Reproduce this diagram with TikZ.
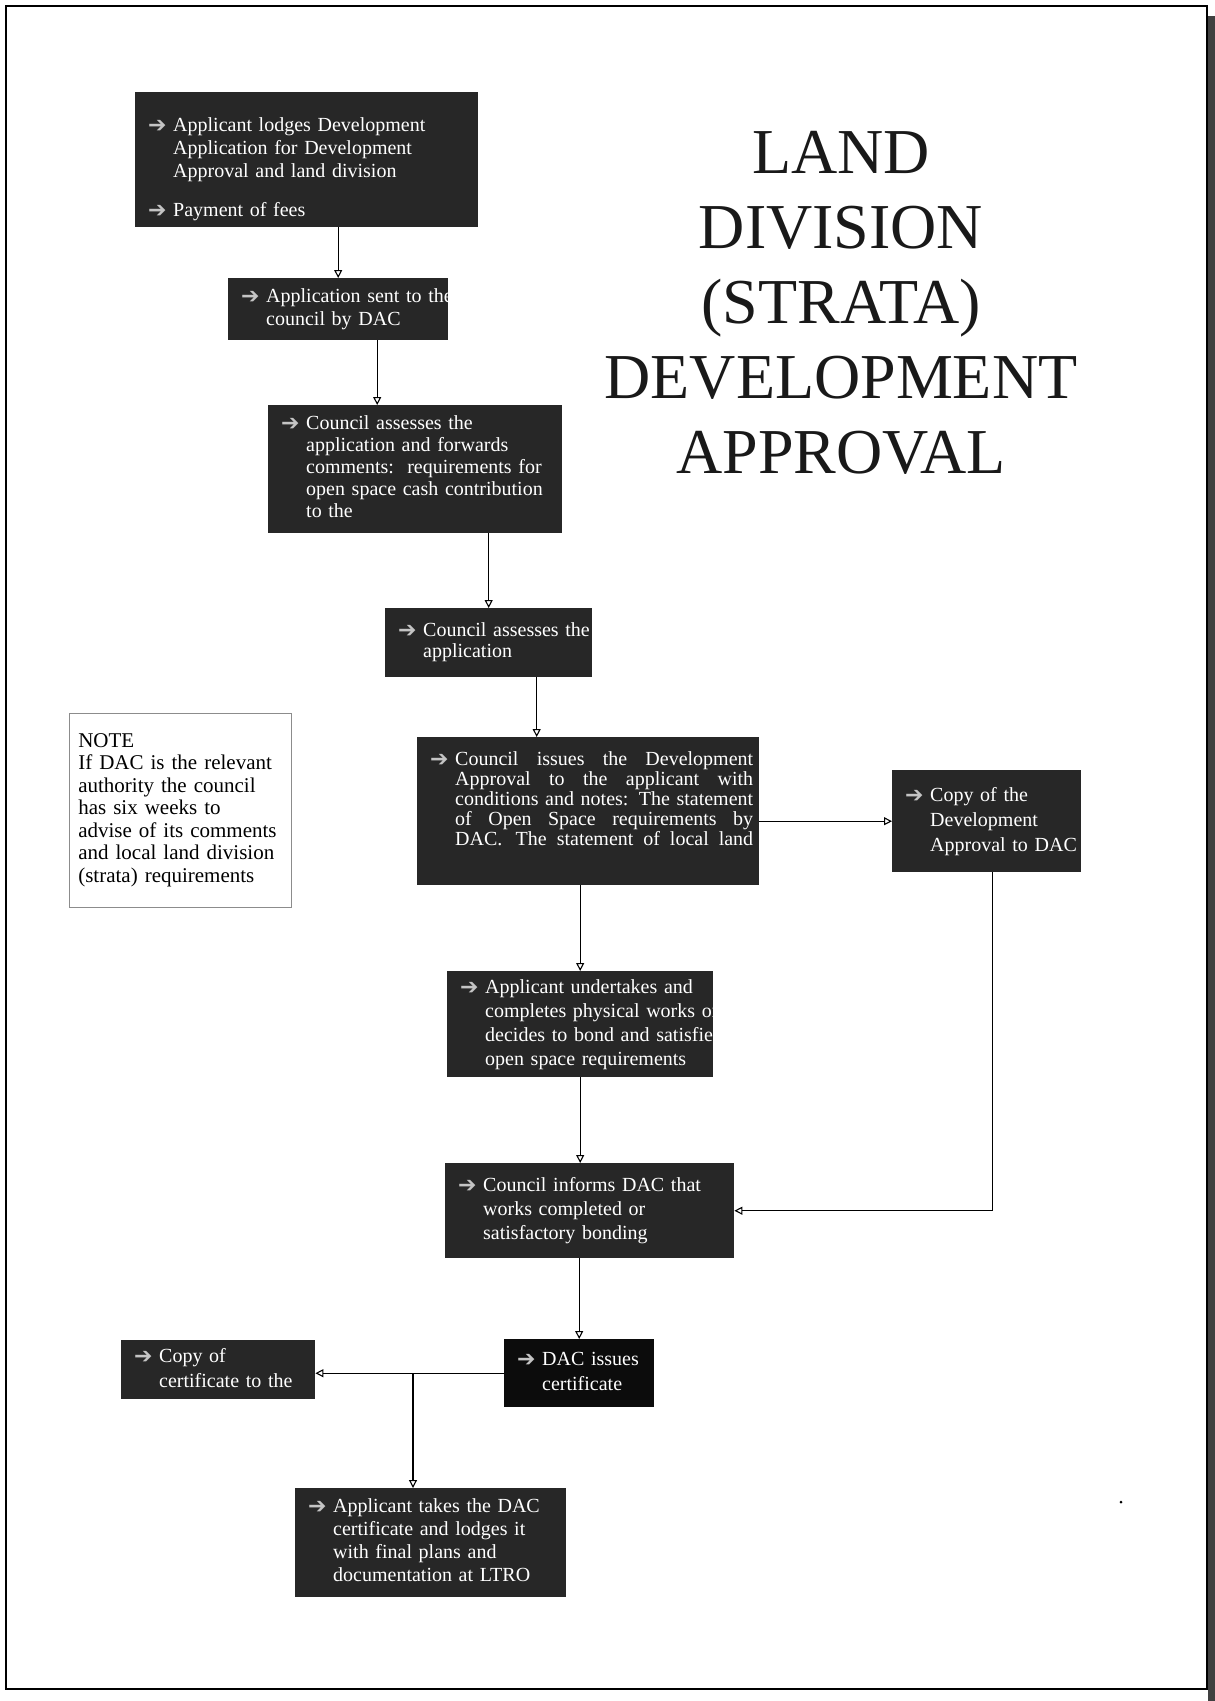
\documentclass[tikz,border=0pt]{standalone}
\usepackage{fontspec}
\setmainfont{Liberation Serif}
\newfontfamily\symfont{DejaVu Sans}
\usepackage{xcolor}
\usepackage{tikz}
\usetikzlibrary{arrows.meta, positioning}
\definecolor{boxgray}{HTML}{272727}
\definecolor{boxblack}{HTML}{0C0C0C}
\definecolor{bulletgray}{HTML}{C4C4C4}
\newcommand{\arr}{\makebox[25pt][l]{\raisebox{-1pt}{\symfont\bfseries\fontsize{22}{22}\selectfont\color{bulletgray}➔}}}
\newcommand{\ind}{\hspace*{25pt}}
\newcommand{\blines}[1]{\begin{tabular}{@{}l@{}}#1\end{tabular}}
\newcommand{\jline}[1]{\makebox[298pt][l]{#1}}
\tikzset{
	>={Triangle[open,length=8pt,width=8pt]}, % small hollow arrow heads
	flow/.style={->, line width=1.1pt}, % connectors between the boxes
	stepbox/.style={fill=boxgray, text=white, anchor=north west, inner xsep=13pt, inner ysep=0pt, align=left, font=\fontsize{20}{23}\selectfont}, % dark boxes
	notebox/.style={draw=black!45, line width=0.6pt, fill=white, anchor=north west, inner xsep=9pt, inner ysep=0pt, align=left, font=\fontsize{21}{22.5}\selectfont}, % the note
	title/.style={anchor=north, inner sep=0pt, align=center, text=black!90, font=\fontsize{64}{75}\selectfont}, % big heading
}
\begin{document}
\begin{tikzpicture}[x=1pt,y=-1pt]
		\useasboundingbox (0,0) rectangle (1215,1701);
		% page frame
		\draw[line width=2pt] (6,1689) -- (6,6) -- (1207,6) -- (1207,1689) -- cycle;
		\fill[black!75] (1208,16) rectangle (1215,1701);
		\fill (1121,1502) circle (1.5pt);

		\node[title] (title) at (841,131) {LAND\\DIVISION\\(STRATA)\\DEVELOPMENT\\APPROVAL};

		\node[stepbox, text width=317pt, minimum height=135pt] (s1) at (135,92)
			{\blines{\rule{0pt}{36pt}\arr Applicant lodges Development\\ \ind Application for Development\\ \ind Approval and land division\\[16pt] \arr Payment of fees}};
		\node[stepbox, text width=194pt, minimum height=62pt] (s2) at (228,278)
			{\blines{\arr Application sent to the\\ \ind council by DAC}};
		\node[stepbox, text width=268pt, minimum height=128pt, font=\fontsize{20}{22}\selectfont] (s3) at (268,405)
			{\blines{\arr Council assesses the\\ \ind application and forwards\\ \ind comments:\ \ requirements for\\ \ind open space cash contribution\\ \ind to the}};
		\node[stepbox, text width=181pt, minimum height=69pt, font=\fontsize{20}{21}\selectfont] (s4) at (385,608)
			{\blines{\arr Council assesses the\\ \ind application}};
		\node[stepbox, text width=316pt, minimum height=148pt, font=\fontsize{20}{20}\selectfont] (s5) at (417,737)
			{\blines{\arr\jline{Council\hfill issues\hfill the\hfill Development}\\
			\ind\jline{Approval\hfill to\hfill the\hfill applicant\hfill with}\\
			\ind\jline{conditions and notes:\hfill The statement}\\
			\ind\jline{of\hfill Open\hfill Space\hfill requirements\hfill by}\\
			\ind\jline{DAC.\ \ The\hfill statement\hfill of\hfill local\hfill land}\\ \mbox{}}};
		\node[stepbox, text width=163pt, minimum height=102pt, font=\fontsize{20}{25}\selectfont] (s6) at (892,770)
			{\blines{\arr Copy of the\\ \ind Development\\ \ind Approval to DAC}};
		\node[stepbox, text width=240pt, minimum height=106pt, font=\fontsize{20}{24}\selectfont] (s7) at (447,971)
			{\blines{\arr Applicant undertakes and\\ \ind completes physical works or\\ \ind decides to bond and satisfies\\ \ind open space requirements}};
		\node[stepbox, text width=263pt, minimum height=95pt, font=\fontsize{20}{24}\selectfont] (s8) at (445,1163)
			{\blines{\arr Council informs DAC that\\ \ind works completed or\\ \ind satisfactory bonding}};
		\node[stepbox, fill=boxblack, text width=124pt, minimum height=68pt, font=\fontsize{20}{25}\selectfont] (s9) at (504,1339)
			{\blines{\arr DAC issues\\ \ind certificate}};
		\node[stepbox, text width=168pt, minimum height=59pt, font=\fontsize{20}{25}\selectfont] (s10) at (121,1340)
			{\blines{\arr Copy of\\ \ind certificate to the}};
		\node[stepbox, text width=245pt, minimum height=109pt] (s11) at (295,1488)
			{\blines{\arr Applicant takes the DAC\\ \ind certificate and lodges it\\ \ind with final plans and\\ \ind documentation at LTRO}};

		\node[notebox, text width=204pt, minimum height=194pt] (note) at (69,713)
			{\blines{NOTE\\ If DAC is the relevant\\ authority the council\\ has six weeks to\\ advise of its comments\\ and local land division\\ (strata) requirements}};

		% straight drops onto the middle of the next box
		\foreach \a/\b in {s1/s2, s3/s4, s5/s7, s8/s9}
		{
			\draw[flow] (\a.south -| \b.north) -- (\b.north);
		}

		\draw[flow] ([xshift=39pt]s2.south) -- ([xshift=39pt]s2.south |- s3.north);
		\draw[flow] ([xshift=48pt]s4.south) -- ([xshift=48pt]s4.south |- s5.north);
		\draw[flow] (s7.south) -- (s7.south |- s8.north);
		\draw[flow] (s5.east |- s6.west) -- (s6.west);
		\draw[flow] ([xshift=6pt]s6.south) |- (s8.east);
		\draw[flow] (s9.west) -- (s9.west -| s10.east);
		\coordinate (b1) at (s9.west -| 413,0);
		\draw[flow] (b1) -- (b1 |- s11.north);

	\end{tikzpicture}
\end{document}
